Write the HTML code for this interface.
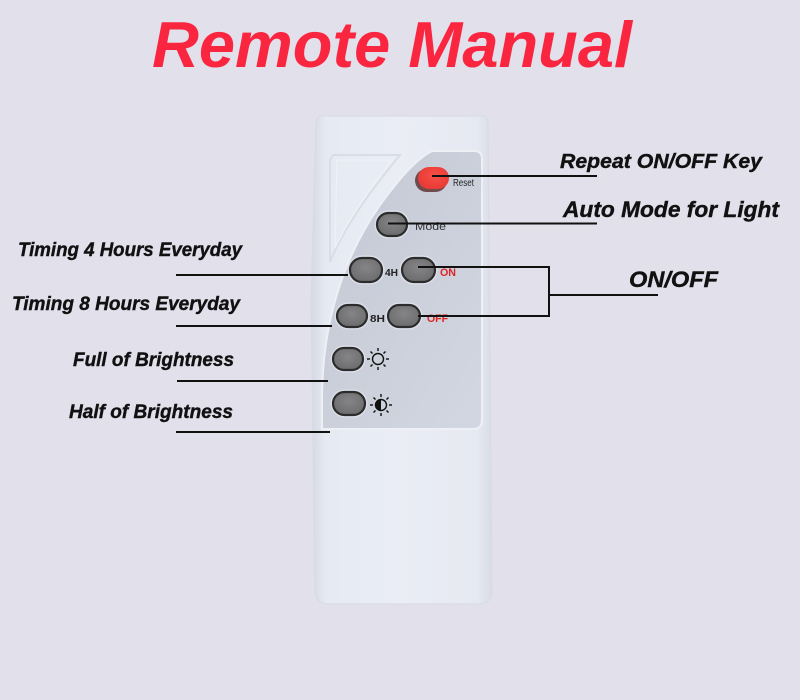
<!DOCTYPE html>
<html><head><meta charset="utf-8"><style>
html,body{margin:0;padding:0;background:#e2e0eb;}
svg{display:block;}
text{font-family:"Liberation Sans",Arial,sans-serif;}
</style></head><body>
<svg width="800" height="700" viewBox="0 0 800 700" xmlns="http://www.w3.org/2000/svg">
<defs>
<linearGradient id="body" x1="0" y1="0" x2="1" y2="0">
<stop offset="0" stop-color="#d3d8e2"/>
<stop offset="0.08" stop-color="#e6eaf2"/>
<stop offset="0.5" stop-color="#eaedf5"/>
<stop offset="0.92" stop-color="#e6e9f1"/>
<stop offset="1" stop-color="#d8dce6"/>
</linearGradient>
<linearGradient id="panel" x1="0" y1="0" x2="1" y2="1">
<stop offset="0" stop-color="#c3c8d4"/>
<stop offset="1" stop-color="#d3d7e1"/>
</linearGradient>
<radialGradient id="btn" cx="0.5" cy="0.4" r="0.6">
<stop offset="0" stop-color="#858587"/>
<stop offset="1" stop-color="#6c6c6e"/>
</radialGradient>
<radialGradient id="red" cx="0.55" cy="0.4" r="0.6">
<stop offset="0" stop-color="#f85048"/>
<stop offset="1" stop-color="#e83a36"/>
</radialGradient>
</defs>
<rect width="800" height="700" fill="#e2e0eb"/>

<!-- Title -->
<text x="152" y="67" font-size="65" font-weight="bold" font-style="italic" fill="#fa2640" textLength="480" lengthAdjust="spacingAndGlyphs">Remote Manual</text>

<!-- Remote body -->
<path d="M322,116 L482,116 Q488,116 488,124 L492,590 Q492,604 478,604 L330,604 Q316,604 315,592 L311,300 L316,124 Q316,116 322,116 Z" fill="url(#body)" stroke="#d6dae3" stroke-width="1"/>

<!-- ghost shape -->
<path d="M333,155 L400,155 C375,185 345,225 330,262 L330,160 Z" fill="none" stroke="#d9dde6" stroke-width="2"/>
<path d="M337,160 L392,160 C370,188 348,220 335,248 Z" fill="none" stroke="#f0f2f7" stroke-width="1"/>

<!-- Panel -->
<path d="M432,151 L474,151 Q482,151 482,159 L482,420 Q482,429 473,429 L322,429 L322,400 C322,320 345,255 380,205 C400,178 415,160 432,151 Z" fill="url(#panel)" stroke="#eef0f5" stroke-width="2"/>

<!-- Buttons -->
<g>
<rect x="415" y="169" width="32" height="23" rx="11.5" fill="#5a2a2a" opacity="0.8"/>
<rect x="418" y="167" width="31" height="22" rx="11" fill="url(#red)"/>
<g stroke="#e4e7ee" stroke-width="5" fill="none" opacity="0.7">
<rect x="377" y="213" width="30" height="23" rx="11.5"/>
<rect x="350" y="258" width="32" height="24" rx="12"/>
<rect x="402" y="258" width="33" height="24" rx="12"/>
<rect x="337" y="305" width="30" height="22" rx="11"/>
<rect x="388" y="305" width="32" height="22" rx="11"/>
<rect x="333" y="348" width="30" height="22" rx="11"/>
<rect x="333" y="392" width="32" height="23" rx="11.5"/>
</g>
<g stroke="#2c2c2c" stroke-width="2.2" fill="url(#btn)">
<rect x="377" y="213" width="30" height="23" rx="11.5"/>
<rect x="350" y="258" width="32" height="24" rx="12"/>
<rect x="402" y="258" width="33" height="24" rx="12"/>
<rect x="337" y="305" width="30" height="22" rx="11"/>
<rect x="388" y="305" width="32" height="22" rx="11"/>
<rect x="333" y="348" width="30" height="22" rx="11"/>
<rect x="333" y="392" width="32" height="23" rx="11.5"/>
</g>
</g>

<!-- remote labels -->
<text x="453" y="186" font-size="10" fill="#222" textLength="21" lengthAdjust="spacingAndGlyphs">Reset</text>
<text x="415" y="230" font-size="11" fill="#333" textLength="31" lengthAdjust="spacingAndGlyphs">Mode</text>
<text x="385" y="276" font-size="10" font-weight="bold" fill="#222" textLength="13" lengthAdjust="spacingAndGlyphs">4H</text>
<text x="440" y="276" font-size="11" font-weight="bold" fill="#e02424" textLength="16" lengthAdjust="spacingAndGlyphs">ON</text>
<text x="370" y="322" font-size="10" font-weight="bold" fill="#222" textLength="15" lengthAdjust="spacingAndGlyphs">8H</text>
<text x="427" y="322" font-size="11" font-weight="bold" fill="#e02424" textLength="21" lengthAdjust="spacingAndGlyphs">OFF</text>

<!-- sun icon -->
<g stroke="#111" stroke-width="1.4" fill="none">
<circle cx="378" cy="359" r="5.5"/>
<line x1="378" y1="348" x2="378" y2="351"/><line x1="378" y1="367" x2="378" y2="370"/>
<line x1="367" y1="359" x2="370" y2="359"/><line x1="386" y1="359" x2="389" y2="359"/>
<line x1="370.5" y1="351.5" x2="372.5" y2="353.5"/><line x1="383.5" y1="364.5" x2="385.5" y2="366.5"/>
<line x1="385.5" y1="351.5" x2="383.5" y2="353.5"/><line x1="372.5" y1="364.5" x2="370.5" y2="366.5"/>
</g>
<!-- half sun -->
<g stroke="#111" stroke-width="1.4" fill="none">
<circle cx="381" cy="405" r="5.5"/>
<line x1="381" y1="394" x2="381" y2="397"/><line x1="381" y1="413" x2="381" y2="416"/>
<line x1="370" y1="405" x2="373" y2="405"/><line x1="389" y1="405" x2="392" y2="405"/>
<line x1="373.5" y1="397.5" x2="375.5" y2="399.5"/><line x1="386.5" y1="410.5" x2="388.5" y2="412.5"/>
<line x1="388.5" y1="397.5" x2="386.5" y2="399.5"/><line x1="375.5" y1="410.5" x2="373.5" y2="412.5"/>
</g>
<path d="M381,399.5 A5.5,5.5 0 0 0 381,410.5 Z" fill="#111"/>

<!-- Connector lines -->
<g stroke="#111" stroke-width="2" fill="none">
<line x1="432" y1="176" x2="597" y2="176"/>
<line x1="388" y1="223.5" x2="597" y2="223.5"/>
<line x1="418" y1="267" x2="549" y2="267"/>
<line x1="418" y1="316" x2="549" y2="316"/>
<line x1="549" y1="266" x2="549" y2="317"/>
<line x1="549" y1="295" x2="658" y2="295"/>
<line x1="176" y1="275" x2="348" y2="275"/>
<line x1="176" y1="326" x2="332" y2="326"/>
<line x1="177" y1="381" x2="328" y2="381"/>
<line x1="176" y1="432" x2="330" y2="432"/>
</g>

<!-- Labels -->
<g font-weight="bold" font-style="italic" fill="#111" stroke="#111" stroke-width="0.4">
<text x="560" y="168" font-size="20" textLength="202" lengthAdjust="spacingAndGlyphs">Repeat ON/OFF Key</text>
<text x="563" y="217" font-size="22" textLength="216" lengthAdjust="spacingAndGlyphs">Auto Mode for Light</text>
<text x="629" y="287" font-size="22" textLength="89" lengthAdjust="spacingAndGlyphs">ON/OFF</text>
<text x="18" y="256" font-size="19" textLength="224" lengthAdjust="spacingAndGlyphs">Timing 4 Hours Everyday</text>
<text x="12" y="310" font-size="19" textLength="228" lengthAdjust="spacingAndGlyphs">Timing 8 Hours Everyday</text>
<text x="73" y="366" font-size="19" textLength="161" lengthAdjust="spacingAndGlyphs">Full of Brightness</text>
<text x="69" y="418" font-size="19" textLength="164" lengthAdjust="spacingAndGlyphs">Half of Brightness</text>
</g>
</svg>
</body></html>
